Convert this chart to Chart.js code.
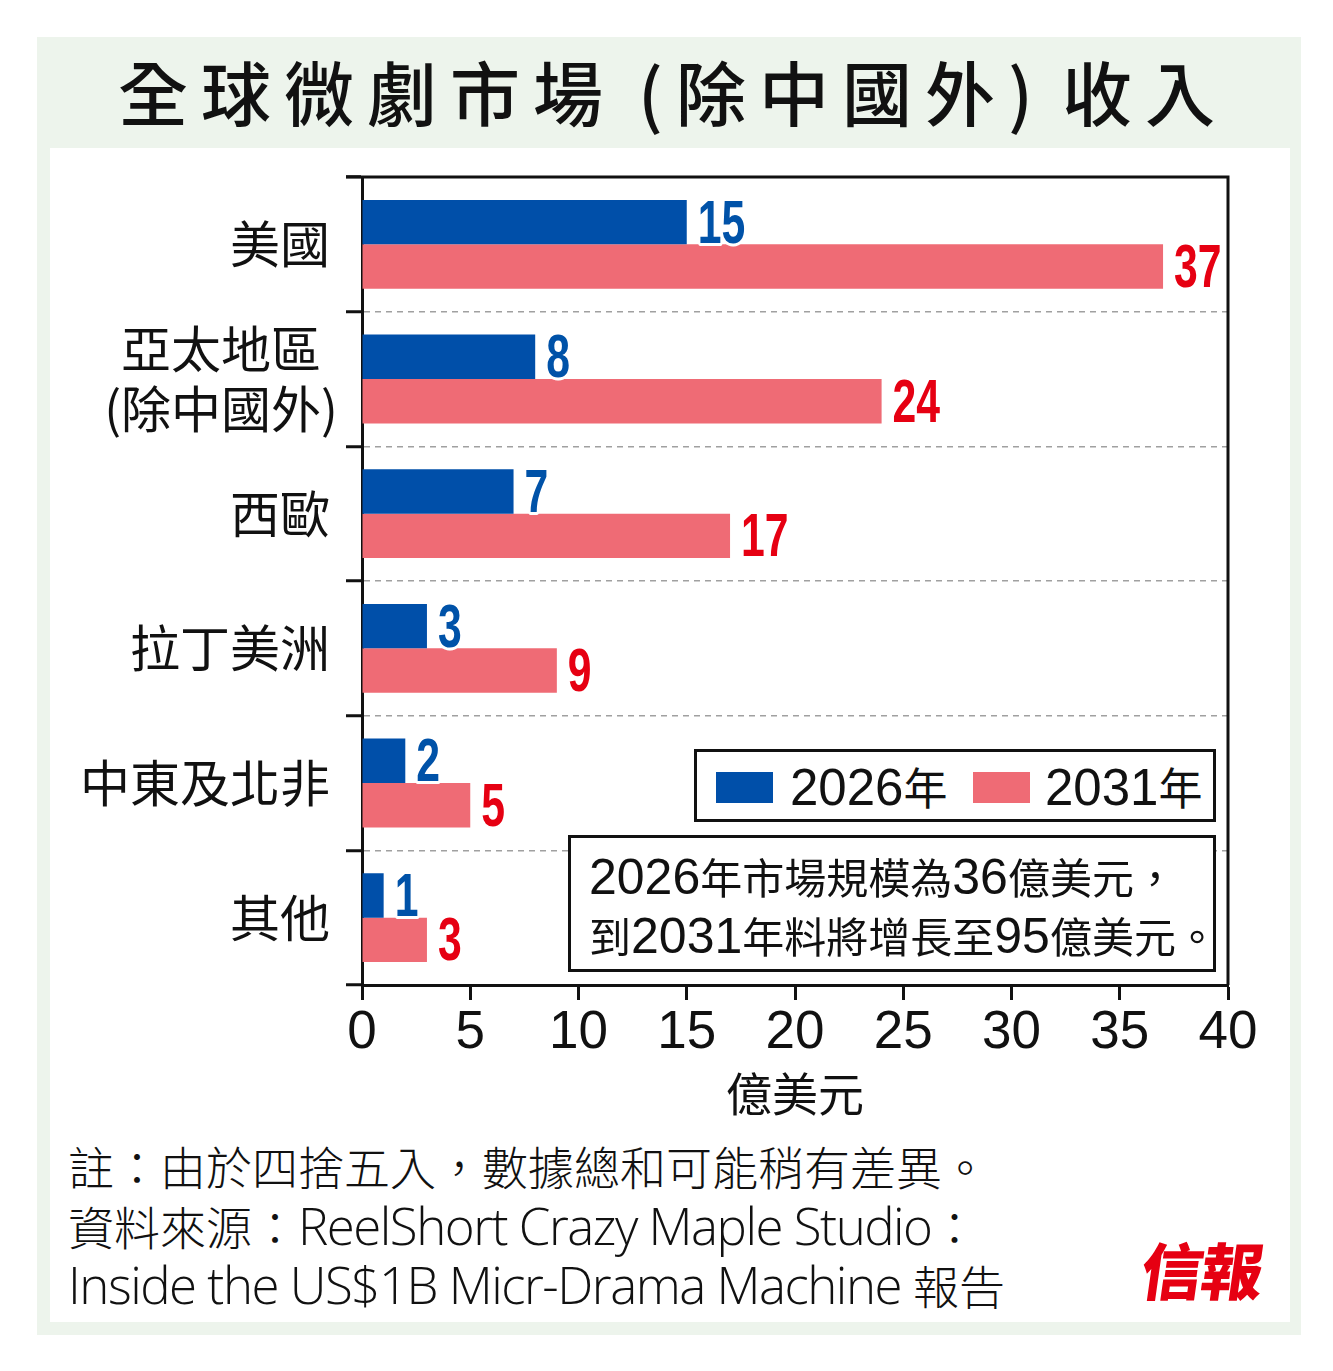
<!DOCTYPE html>
<html><head><meta charset="utf-8">
<script src="https://cdn.jsdelivr.net/npm/chart.js@4.4.0/dist/chart.umd.min.js"></script>
<style>
html,body{margin:0;padding:0;background:#fff;}
body{width:1333px;height:1371px;position:relative;overflow:hidden;font-family:"Noto Sans CJK TC",sans-serif;color:#111;}
#outer{position:absolute;left:37px;top:37px;width:1264px;height:1298px;background:#edf4ec;}
#inner{position:absolute;left:50px;top:148px;width:1240px;height:1174px;background:#fff;}
#title{position:absolute;left:0;width:1333px;top:46px;text-align:center;font-size:70px;font-weight:500;letter-spacing:13px;padding-left:13px;box-sizing:border-box;line-height:90px;white-space:nowrap;}
#title .pl{margin-left:22px;}
#title .pr{margin-right:16px;}
#wrap{position:absolute;left:0;top:150px;width:1333px;height:980px;}
.n{font-family:"Liberation Sans Narrow","Liberation Sans",sans-serif;}
.box{position:absolute;border:3px solid #111;background:#fff;box-sizing:border-box;}
.sw{position:absolute;width:57px;height:31px;}
.lgt{position:absolute;font-size:44px;line-height:60px;white-space:nowrap;}
.lgt .n{font-size:51px;}
#note{position:absolute;left:589px;top:847px;font-size:42px;line-height:57px;white-space:nowrap;}
#note .n{font-size:50px;}
#foot{position:absolute;left:68px;top:1139px;font-size:46px;line-height:57.5px;font-weight:300;white-space:nowrap;font-family:"Open Sans","Noto Sans CJK TC",sans-serif;}
#foot .l{font-size:51px;font-stretch:92%;font-weight:300;letter-spacing:-1.5px;}
#logo{position:absolute;left:1142px;top:1228px;font-size:62px;font-weight:900;color:#e60012;line-height:80px;letter-spacing:-2px;transform:skewX(-8deg);}
</style></head>
<body>
<div id="outer"></div>
<div id="inner"></div>
<div id="title">全球微劇市場<span class="pl">(</span>除中國外<span class="pr">)</span>收入</div>
<div id="wrap"><canvas id="c"></canvas></div>
<div class="box" style="left:694px;top:749px;width:522px;height:73px;"></div>
<div id="legend"></div>
<div class="box" style="left:568px;top:835px;width:648px;height:137px;"></div>
<div id="note"></div>
<div id="foot"></div>
<div id="logo">信報</div>
<script>
// ---- data ----
const categories = ['美國', '亞太地區\n(除中國外)', '西歐', '拉丁美洲', '中東及北非', '其他'];
const seriesNames = ['2026年', '2031年'];
const values2026 = [15, 8, 7, 3, 2, 1];
const values2031 = [37, 24, 17, 9, 5, 3];
const xMin = 0, xMax = 40, xStep = 5;
const axisTitle = '億美元';
const noteLines = ['2026年市場規模為36億美元，', '到2031年料將增長至95億美元。'];
const footLines = [
  [['c','註：由於四捨五入，數據總和可能稍有差異。']],
  [['c','資料來源：'],['l','ReelShort Crazy Maple Studio'],['c','：']],
  [['l','Inside the US$1B Micr-Drama Machine'],['c',' 報告']]
];
const barColors = ['#004fa9', '#ef6b75'];
const labelColors = ['#0052a8', '#e60012'];

// ---- html text helpers ----
function wrapDigits(s){
  return s.replace(/[0-9]+/g, m => '<span class="n">' + m + '</span>');
}
const legendPos = [{sw:716, tx:790}, {sw:973, tx:1045}];
const lg = document.getElementById('legend');
seriesNames.forEach((name, i) => {
  const sw = document.createElement('div');
  sw.className = 'sw';
  sw.style.left = legendPos[i].sw + 'px';
  sw.style.top = '772px';
  sw.style.background = barColors[i];
  lg.appendChild(sw);
  const t = document.createElement('div');
  t.className = 'lgt';
  t.style.left = legendPos[i].tx + 'px';
  t.style.top = '756px';
  t.innerHTML = wrapDigits(name);
  lg.appendChild(t);
});
document.getElementById('note').innerHTML = noteLines.map(wrapDigits).join('<br>');
document.getElementById('foot').innerHTML = footLines.map(line =>
  line.map(([k, s]) => k === 'l' ? '<span class="l">' + s + '</span>' : s).join('')
).join('<br>');

// ---- chart ----
const CJK = '"Noto Sans CJK TC", sans-serif';
const NARROW = '"Liberation Sans Narrow", "Liberation Sans", sans-serif';

const framePlugin = {
  id: 'frame',
  afterDraw(chart) {
    const {ctx, chartArea: a} = chart;
    ctx.save();
    ctx.strokeStyle = '#111';
    ctx.lineWidth = 3;
    ctx.beginPath();
    ctx.moveTo(a.left - 16, a.top);
    ctx.lineTo(a.right, a.top);
    ctx.lineTo(a.right, a.bottom);
    ctx.stroke();
    ctx.restore();
  }
};
const yLabels = {
  id: 'yLabels',
  afterDraw(chart) {
    const ys = chart.scales.y, ctx = chart.ctx;
    ctx.save();
    ctx.font = '50px ' + CJK;
    ctx.fillStyle = '#111';
    ctx.textAlign = 'center';
    ctx.textBaseline = 'middle';
    const rightEdge = chart.chartArea.left - 32;
    categories.forEach((c, i) => {
      const lines = c.split('\n');
      const w = Math.max(...lines.map(l => ctx.measureText(l).width));
      const cx = (lines.length > 1 ? rightEdge + 8 : rightEdge) - w / 2;
      const cy = ys.getPixelForValue(i);
      const lh = 60;
      lines.forEach((l, k) => ctx.fillText(l, cx, cy + (k - (lines.length - 1) / 2) * lh));
    });
    ctx.restore();
  }
};
const valueLabels = {
  id: 'valueLabels',
  afterDatasetsDraw(chart) {
    const ctx = chart.ctx;
    chart.data.datasets.forEach((ds, di) => {
      const meta = chart.getDatasetMeta(di);
      meta.data.forEach((bar, i) => {
        const txt = String(ds.data[i]);
        ctx.save();
        ctx.font = 'bold 61px "Liberation Sans", Arial, sans-serif';
        ctx.translate(bar.x + 11, bar.y + 20.5);
        ctx.scale(0.7, 1);
        ctx.textAlign = 'left';
        ctx.textBaseline = 'alphabetic';
        ctx.lineJoin = 'round';
        ctx.lineWidth = 6;
        ctx.strokeStyle = '#fff';
        ctx.strokeText(txt, 0, 0);
        ctx.fillStyle = labelColors[di];
        ctx.fillText(txt, 0, 0);
        ctx.restore();
      });
    });
  }
};

function build() {
  new Chart(document.getElementById('c'), {
    type: 'bar',
    data: {
      labels: categories,
      datasets: [
        {label: seriesNames[0], data: values2026, backgroundColor: barColors[0], borderWidth: 0},
        {label: seriesNames[1], data: values2031, backgroundColor: barColors[1], borderWidth: 0}
      ]
    },
    options: {
      indexAxis: 'y',
      responsive: true,
      maintainAspectRatio: false,
      animation: false,
      categoryPercentage: 0.66,
      barPercentage: 1.0,
      layout: {padding: {top: 27, right: 105, left: 0, bottom: 0}},
      plugins: {legend: {display: false}, tooltip: {enabled: false}},
      scales: {
        x: {
          type: 'linear', min: xMin, max: xMax,
          ticks: {stepSize: xStep, color: '#111', padding: 2, font: {family: NARROW, size: 53}},
          grid: {drawOnChartArea: false, drawTicks: true, tickLength: 15, tickColor: '#111', tickWidth: 3, color: '#111'},
          border: {display: true, color: '#111', width: 3},
          title: {display: true, text: axisTitle, color: '#111', font: {family: CJK, size: 46}, padding: {top: 0, bottom: 9}},
          afterFit(s) { s.height = 145; s.paddingLeft = 0; s.paddingRight = 0; }
        },
        y: {
          type: 'category',
          offset: true,
          ticks: {display: false},
          grid: {offset: true, drawOnChartArea: true, color: '#a0a0a0', lineWidth: 1.5, drawTicks: true, tickLength: 16, tickColor: '#111', tickWidth: 3},
          border: {display: true, color: '#111', width: 3, dash: [6, 5]},
          afterFit(s) { s.width = 362; s.paddingTop = 0; s.paddingBottom = 0; }
        }
      }
    },
    plugins: [framePlugin, yLabels, valueLabels]
  });
}
Promise.all([
  document.fonts.load('48px "Noto Sans CJK TC"'),
  document.fonts.load('53px "Liberation Sans Narrow"'),
  document.fonts.load('bold 61px "Liberation Sans"')
]).then(build, build);
</script>
</body></html>
